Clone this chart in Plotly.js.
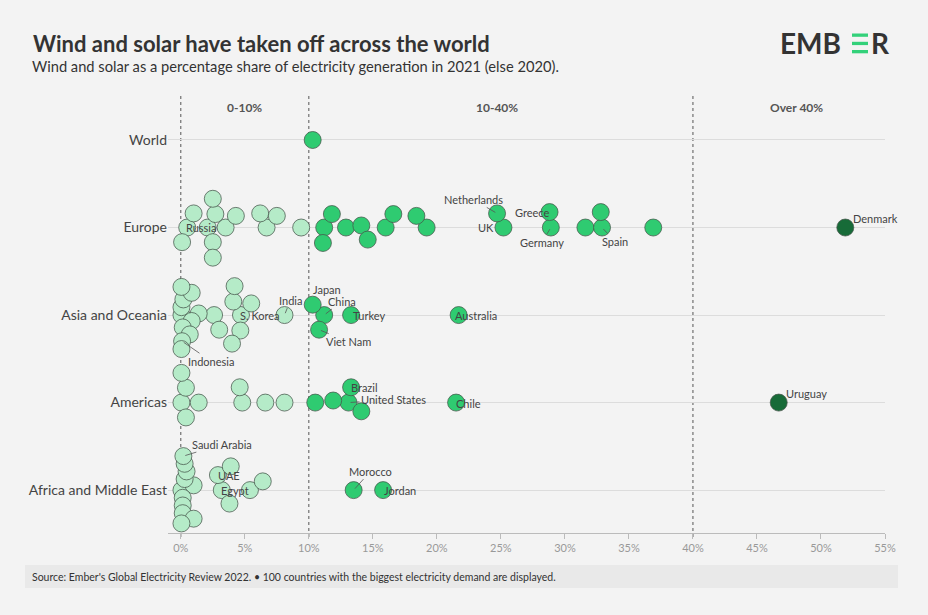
<!DOCTYPE html>
<html><head><meta charset="utf-8">
<script src="https://cdn.plot.ly/plotly-3.0.1.min.js"></script>
<style>html,body{margin:0;padding:0;background:#f3f3f3;}#chart{width:928px;height:615px;}</style>
</head><body><div id="chart"></div>
<script>
// ---------- DATA ----------
const regions = ["World", "Europe", "Asia and Oceania", "Americas", "Africa and Middle East"];
const xTickVals = [0, 5, 10, 15, 20, 25, 30, 35, 40, 45, 50, 55];
const bandLabels = ["0-10%", "10-40%", "Over 40%"];
const bandEdges = [0, 10, 40];

const worldValues = [10.3];
const worldNames  = [""];

const europeValues = [0.5, 2.1, 3.5, 6.7, 9.4, 1.0, 2.7, 4.3, 6.2, 7.5, 0.1, 2.5, 2.5, 2.5,
                      11.2, 12.9, 16.0, 19.2, 25.2, 28.9, 31.6, 32.9, 36.9,
                      11.8, 14.1, 16.6, 18.4, 24.7, 28.8, 32.8, 11.1, 14.6, 51.9];
const europeNames  = ["Russia", "", "", "", "", "", "", "", "", "", "", "", "", "",
                      "", "", "", "", "UK", "Germany", "", "Spain", "",
                      "", "", "", "", "Netherlands", "Greece", "", "", "", "Denmark"];

const asiaValues = [0.05, 2.6, 4.7, 8.1, 11.2, 13.3, 21.7,
                    0.05, 1.4, 0.85, 0.15, 0.2, 0.7, 0.85, 0.1, 0.05, 0.05,
                    4.1, 5.5, 4.65, 3.0, 4.0, 4.2, 10.3, 10.8];
const asiaNames  = ["", "", "S. Korea", "India", "China", "Turkey", "Australia",
                    "", "", "", "", "", "", "", "Indonesia", "", "",
                    "", "", "", "", "", "", "Japan", "Viet Nam"];

const americasValues = [0.05, 1.4, 4.8, 6.6, 8.1, 10.5, 13.1, 21.5, 46.7,
                        0.4, 0.4, 0.05, 4.6, 11.9, 13.3, 14.1];
const americasNames  = ["", "", "", "", "", "", "United States", "Chile", "Uruguay",
                        "", "", "", "", "", "Brazil", ""];

const africaValues = [0.05, 1.0, 3.2, 5.4, 13.5, 15.8,
                      0.15, 0.3, 0.15, 0.45, 2.9, 6.4, 3.8, 0.15, 0.3, 1.0, 0.2, 3.9, 0.05];
const africaNames  = ["", "", "Egypt", "", "Morocco", "Jordan",
                      "", "", "", "", "UAE", "", "", "", "", "", "Saudi Arabia", "", ""];

const regionValues = [worldValues, europeValues, asiaValues, americasValues, africaValues];
const regionNames  = [worldNames, europeNames, asiaNames, americasNames, africaNames];

// ---------- LAYOUT GEOMETRY ----------
const W = 928, H = 615, ML = 168, MR = 43, MT = 95, MB = 82;
const xRange = [-1, 55], yRange = [4.49, -0.514];
const kx = (W - ML - MR) / (xRange[1] - xRange[0]);
const ky = (H - MT - MB) / (yRange[0] - yRange[1]);
const PW = W - ML - MR, PH = H - MT - MB;
const px2paperX = px => (px - ML) / PW;
const px2paperY = py => (H - MB - py) / PH;

// beeswarm: x fixed at data value, vertical offset found greedily, crowded columns squeezed
const D = 15.5, CAP = 34;
function swarm(values) {
  const xs = values.map(v => v * kx), ys = [];
  xs.forEach((x, i) => {
    const iv = [];
    for (let j = 0; j < i; j++) {
      const dx = x - xs[j];
      if (Math.abs(dx) < D) { const h = Math.sqrt(D * D - dx * dx); iv.push([ys[j] - h, ys[j] + h]); }
    }
    const cand = [0];
    iv.forEach(v => cand.push(v[0], v[1]));
    cand.sort((a, b) => (Math.abs(a) - Math.abs(b)) || (a - b));
    const ok = c => iv.every(v => !(c > v[0] + 1e-6 && c < v[1] - 1e-6));
    ys.push(cand.find(ok));
  });
  return ys.map((y, i) => {
    let m = 0;
    xs.forEach((x, j) => { if (Math.abs(x - xs[i]) < D) m = Math.max(m, Math.abs(ys[j])); });
    return m > CAP ? y * CAP / m : y;
  });
}
const colorFor = v => v >= 40 ? "#176b38" : (v >= 10 ? "#2fcb71" : "#b5ebc8");

// label placement styles
const labelCfg = {
  "Russia": {xa: "left", xs: -3, ys: 0},
  "Netherlands": {ax: -24, ay: -14},
  "Greece": {xa: "right", xs: 1, ys: 0},
  "UK": {xa: "right", xs: -7, ys: 0},
  "Germany": {ax: -9, ay: 15},
  "Spain": {ax: 13, ay: 14},
  "Denmark": {xa: "left", xs: 6, ys: 9},
  "India": {ax: 6, ay: -15},
  "Japan": {xa: "left", xs: -2, ys: 15},
  "China": {ax: 18, ay: -14},
  "S. Korea": {xa: "left", xs: -3, ys: 0},
  "Turkey": {xa: "left", xs: 0, ys: 0},
  "Australia": {xa: "left", xs: -6, ys: 0},
  "Viet Nam": {ax: 29, ay: 12},
  "Indonesia": {ax: 29, ay: 20},
  "Brazil": {xa: "left", xs: -2, ys: 0},
  "United States": {ax: 45, ay: -3},
  "Chile": {xa: "left", xs: -2, ys: -1},
  "Uruguay": {xa: "left", xs: 5, ys: 9},
  "Saudi Arabia": {ax: 39, ay: -12},
  "UAE": {xa: "left", xs: -2, ys: 0},
  "Egypt": {xa: "left", xs: -3, ys: 0},
  "Morocco": {ax: 17, ay: -19},
  "Jordan": {xa: "left", xs: -1, ys: 0}
};

const FONT = "Lato, 'Open Sans', 'DejaVu Sans', sans-serif";
const traces = [];
const annotations = [];

regionValues.forEach((vals, ri) => {
  const offs = swarm(vals);
  const ys = offs.map(o => ri + o / ky);
  traces.push({
    type: "scatter", mode: "markers", x: vals, y: ys, hoverinfo: "skip", showlegend: false,
    marker: {size: 17, color: vals.map(colorFor), line: {color: "rgba(70,85,75,0.75)", width: 1}}
  });
  regionNames[ri].forEach((nm, k) => {
    if (!nm) return;
    const c = labelCfg[nm];
    const base = {x: vals[k], y: ys[k], xref: "x", yref: "y", text: nm,
                  font: {family: FONT, size: 11, color: "#444"}};
    if (c.ax !== undefined) {
      annotations.push(Object.assign(base, {showarrow: true, arrowhead: 0, arrowwidth: 0.8,
        arrowcolor: "#555", ax: c.ax, ay: c.ay, standoff: 2}));
    } else {
      annotations.push(Object.assign(base, {showarrow: false, xanchor: c.xa, xshift: c.xs,
        yshift: c.ys, yanchor: "middle"}));
    }
  });
});

// band headers
const bandCenters = [5, 24.7, 48.1];
bandLabels.forEach((t, i) => annotations.push({
  x: bandCenters[i], y: px2paperY(107), xref: "x", yref: "paper", text: "<b>" + t + "</b>",
  showarrow: false, font: {family: FONT, size: 12, color: "#555"}, yanchor: "middle"
}));

// subtitle
annotations.push({
  x: px2paperX(30), y: px2paperY(66), xref: "paper", yref: "paper", xanchor: "left", yanchor: "middle",
  text: "Wind and solar as a percentage share of electricity generation in 2021 (else 2020).",
  showarrow: false, font: {family: FONT, size: 14.7, color: "#333"}
});
// footer
annotations.push({
  x: px2paperX(30), y: px2paperY(577), xref: "paper", yref: "paper", xanchor: "left", yanchor: "middle",
  text: "Source: Ember's Global Electricity Review 2022. \u2022 100 countries with the biggest electricity demand are displayed.",
  showarrow: false, font: {family: FONT, size: 10.5, color: "#333"}
});
// logo
annotations.push({
  x: px2paperX(843), y: px2paperY(43.5), xref: "paper", yref: "paper", xanchor: "right", yanchor: "middle",
  text: "<b>EMB</b>", showarrow: false, font: {family: FONT, size: 28, color: "#333"}
});
annotations.push({
  x: px2paperX(869), y: px2paperY(43.5), xref: "paper", yref: "paper", xanchor: "left", yanchor: "middle",
  text: "<b>R</b>", showarrow: false, font: {family: FONT, size: 28, color: "#333"}
});

const shapes = [];
// footer band
shapes.push({type: "rect", xref: "paper", yref: "paper", layer: "below",
  x0: px2paperX(25), x1: px2paperX(898), y0: px2paperY(588), y1: px2paperY(565),
  fillcolor: "#e9e9e9", line: {width: 0}});
// logo bars
[[33.5, 36.8], [41.8, 45.1], [50, 53.3]].forEach(b => shapes.push({type: "rect", xref: "paper", yref: "paper",
  x0: px2paperX(852), x1: px2paperX(868), y0: px2paperY(b[1]), y1: px2paperY(b[0]),
  fillcolor: "#33d17a", line: {width: 0}}));
// band dividers
bandEdges.forEach(e => shapes.push({type: "line", xref: "x", yref: "paper", x0: e, x1: e,
  y0: px2paperY(537), y1: 1, layer: "below", line: {color: "#555", width: 1, dash: "dot"}}));

const layout = {
  width: W, height: H,
  margin: {l: ML, r: MR, t: MT, b: MB},
  paper_bgcolor: "#f3f3f3", plot_bgcolor: "#f3f3f3",
  font: {family: FONT},
  title: {text: "<b>Wind and solar have taken off across the world</b>", x: 33 / W, xref: "container",
    xanchor: "left", y: 1 - 44 / H, yref: "container", yanchor: "middle",
    font: {family: FONT, size: 22, color: "#333"}},
  xaxis: {range: xRange, tickvals: xTickVals, ticktext: xTickVals.map(v => v + "%"),
    showgrid: false, zeroline: false, showline: true, linecolor: "#bbb", linewidth: 1,
    ticks: "outside", ticklen: 5, tickcolor: "#bbb", tickfont: {family: FONT, size: 11, color: "#999"}},
  yaxis: {range: yRange, tickvals: [0, 1, 2, 3, 4], ticktext: regions, showgrid: true,
    gridcolor: "#dcdcdc", gridwidth: 1, zeroline: false, showline: false, ticks: "",
    tickfont: {family: FONT, size: 14, color: "#444"}},
  shapes: shapes,
  annotations: annotations
};

Plotly.newPlot("chart", traces, layout, {displayModeBar: false, staticPlot: true});
</script>
</body></html>
